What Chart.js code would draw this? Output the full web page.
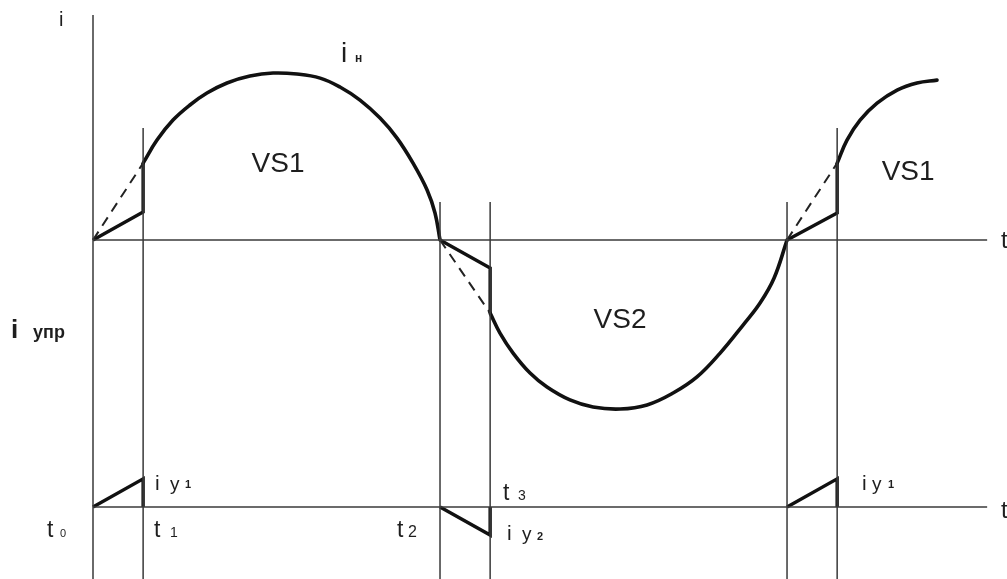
<!DOCTYPE html>
<html>
<head>
<meta charset="utf-8">
<script src="https://cdn.jsdelivr.net/npm/chart.js@4.4.1/dist/chart.umd.min.js"></script>
<style>
html,body{margin:0;padding:0;background:#fff;}
#wrap{width:1007px;height:579px;}
</style>
</head>
<body>
<div id="wrap"><canvas id="c" width="1007" height="579"></canvas></div>
<script>
// ---- data (electrical angle in degrees, current in % of amplitude) ----
const phaseMarks = [0, 26, 180, 206, 360, 386];          // t0, t1, t2, t3, t0', t1'
const markTops   = [134, 66.7, 22.6, 22.6, 22.6, 66.7];   // upper end of each vertical line
const axisEnd = 463.8;

// load current iн, solid parts
const loadA_x = [26, 33.2, 41.5, 50.3, 59.1, 69.5, 81.4, 93.4, 105.8, 117.8, 128.1, 138.5, 148.9, 157.7, 166.0, 173.3, 177.4, 180];
const loadA_y = [45.8, 59.5, 71.4, 80.4, 87.5, 93.5, 97.6, 99.4, 98.8, 96.4, 91.1, 83.3, 72.6, 60.7, 45.8, 29.8, 16.1, 0];
const loadB_x = [206, 211.1, 217.9, 226.7, 235.5, 247.4, 259.4, 273.4, 287.4, 300.9, 313.3, 325.3, 337.2, 346.0, 353.3, 360];
const loadB_y = [-43.5, -55.4, -67.3, -79.2, -87.5, -95.2, -99.4, -100.6, -98.2, -91.1, -81.5, -67.3, -50.6, -37.5, -22.6, 0];
const loadC_x = [386, 391.1, 397.9, 406.7, 417.1, 427.4, 437.8];
const loadC_y = [45.8, 59.5, 71.4, 81.5, 89.3, 93.5, 95.2];

// dashed continuation of iн
const dash_x = [[0, 26], [180, 206], [360, 386]];
const dash_y = [[0, 45.8], [0, -43.5], [0, 45.8]];

// control current path on the upper diagram
const ctrl_x = [[0, 26, 26], [180, 206, 206], [360, 386, 386]];
const ctrl_y = [[0, 16.7, 45.8], [0, -16.7, -43.5], [0, 16.1, 45.8]];

// control pulses iу on the lower diagram
const pulse_x = [[0, 26, 26], [180, 206, 206], [360, 386, 386]];
const pulse_y = [[0, 16.7, 0], [0, -16.7, 0], [0, 16.7, 0]];

// ---- scales ----
const X_MIN = -48.24, X_MAX = 474.1;
const Y_MIN = -201.8, Y_MAX = 142.9;
const Y2_MIN = -42.9, Y2_MAX = 301.8;

const pts = (xs, ys) => xs.map((x, i) => ({x: x, y: ys[i]}));
const THIN = '#3a3a3a', THICK = '#111';

const datasets = [];
function add(data, opts) {
  datasets.push(Object.assign({
    data: data, showLine: true, pointRadius: 0, fill: false,
    borderColor: THIN, borderWidth: 1.5, tension: 0, yAxisID: 'y'
  }, opts || {}));
}
// axes
add([{x: 0, y: 0}, {x: axisEnd, y: 0}]);
add([{x: 0, y: 0}, {x: axisEnd, y: 0}], {yAxisID: 'y2'});
phaseMarks.forEach((m, i) => add([{x: m, y: markTops[i]}, {x: m, y: Y_MIN}]));
// dashed
dash_x.forEach((xs, i) => add(pts(xs, dash_y[i]), {borderDash: [10, 7], borderWidth: 2, borderColor: '#222'}));
// load current
[[loadA_x, loadA_y], [loadB_x, loadB_y], [loadC_x, loadC_y]].forEach(p =>
  add(pts(p[0], p[1]), {borderColor: THICK, borderWidth: 3.6, tension: 0.4, borderCapStyle: 'round'}));
// control path
ctrl_x.forEach((xs, i) => add(pts(xs, ctrl_y[i]), {borderColor: THICK, borderWidth: 3.4, borderJoinStyle: 'miter'}));
// pulses
pulse_x.forEach((xs, i) => add(pts(xs, pulse_y[i]), {borderColor: THICK, borderWidth: 3.4, yAxisID: 'y2', borderJoinStyle: 'miter'}));

// ---- text labels (anchored on data coordinates) ----
const FONT = "'Liberation Sans', Arial, sans-serif";
const labels = [
  {t: 'i', x: -17.6, y: 127.4, s: 20, ax: 'y'},
  {t: 'i', x: 128.6, y: 106, s: 28, ax: 'y'},
  {t: 'н', x: 135.9, y: 106, s: 12, ax: 'y', w: 'bold'},
  {t: 'VS1', x: 96, y: 40.5, s: 28, ax: 'y', a: 'center'},
  {t: 'VS2', x: 273.4, y: -52.4, s: 28, ax: 'y', a: 'center'},
  {t: 'VS1', x: 422.8, y: 35.7, s: 28, ax: 'y', a: 'center'},
  {t: 't', x: 471, y: -4.8, s: 24, ax: 'y'},
  {t: 'i', x: -42.5, y: -58.3, s: 26, ax: 'y', w: 'bold'},
  {t: 'упр', x: -31.1, y: -58.3, s: 18, ax: 'y', w: 'bold'},
  {t: 't', x: 471, y: -6.5, s: 24, ax: 'y2'},
  {t: 't', x: -23.9, y: -17.9, s: 23, ax: 'y2'},
  {t: '0', x: -17.1, y: -17.9, s: 11, ax: 'y2'},
  {t: 't', x: 31.6, y: -17.9, s: 23, ax: 'y2'},
  {t: '1', x: 39.9, y: -17.9, s: 14, ax: 'y2'},
  {t: 't', x: 157.7, y: -17.9, s: 23, ax: 'y2'},
  {t: '2', x: 163.4, y: -17.9, s: 16, ax: 'y2'},
  {t: 't', x: 212.7, y: 4.2, s: 23, ax: 'y2'},
  {t: '3', x: 220.5, y: 4.2, s: 14, ax: 'y2'},
  {t: 'i', x: 32.2, y: 10.1, s: 21, ax: 'y2'},
  {t: 'у', x: 39.9, y: 10.1, s: 19, ax: 'y2'},
  {t: '1', x: 47.7, y: 11.3, s: 11, ax: 'y2', w: 'bold'},
  {t: 'i', x: 214.8, y: -19.6, s: 21, ax: 'y2'},
  {t: 'у', x: 222.5, y: -19.6, s: 19, ax: 'y2'},
  {t: '2', x: 230.3, y: -19.6, s: 11, ax: 'y2', w: 'bold'},
  {t: 'i', x: 398.9, y: 10.1, s: 21, ax: 'y2'},
  {t: 'у', x: 404.1, y: 10.1, s: 19, ax: 'y2'},
  {t: '1', x: 412.4, y: 11.3, s: 11, ax: 'y2', w: 'bold'}
];

const textPlugin = {
  id: 'texts',
  afterDatasetsDraw(chart) {
    const ctx = chart.ctx;
    const xs = chart.scales.x;
    ctx.save();
    ctx.fillStyle = '#1e1e1e';
    ctx.textBaseline = 'alphabetic';
    labels.forEach(l => {
      const ys = chart.scales[l.ax];
      ctx.font = (l.w || 'normal') + ' ' + l.s + 'px ' + FONT;
      ctx.textAlign = l.a || 'left';
      ctx.fillText(l.t, xs.getPixelForValue(l.x), ys.getPixelForValue(l.y));
    });
    ctx.restore();
  }
};

new Chart(document.getElementById('c'), {
  type: 'scatter',
  data: {datasets: datasets},
  options: {
    responsive: false,
    animation: false,
    devicePixelRatio: 1,
    layout: {padding: 0},
    plugins: {legend: {display: false}, tooltip: {enabled: false}, title: {display: false}},
    scales: {
      x: {type: 'linear', min: X_MIN, max: X_MAX, display: false},
      y: {type: 'linear', min: Y_MIN, max: Y_MAX, display: false},
      y2: {type: 'linear', min: Y2_MIN, max: Y2_MAX, display: false}
    }
  },
  plugins: [textPlugin]
});
</script>
</body>
</html>
